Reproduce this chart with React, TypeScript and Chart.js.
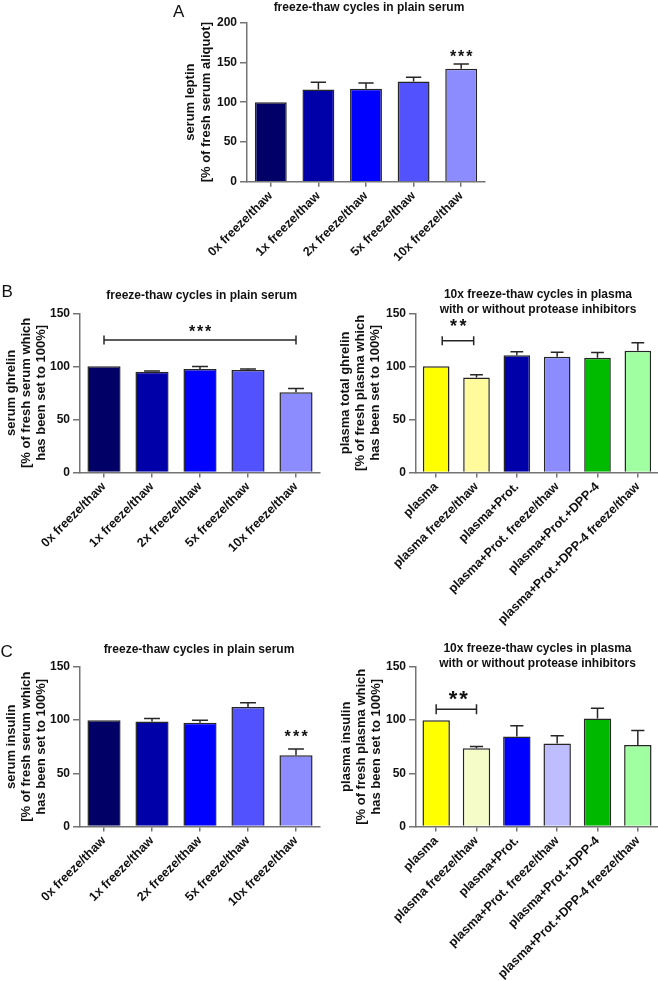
import React, { useEffect, useRef } from 'react';
import { Chart, registerables } from 'chart.js';

Chart.register(...registerables);

const FONT = '"Liberation Sans", Arial, Helvetica, sans-serif';
const AXIS = '#747474';
const INK = '#111111';
const EDGE = '#262626';

// ---------- data ----------
const serumCategories = ['0x freeze/thaw', '1x freeze/thaw', '2x freeze/thaw', '5x freeze/thaw', '10x freeze/thaw'];
const plasmaCategories = [
  'plasma',
  'plasma freeze/thaw',
  'plasma+Prot.',
  'plasma+Prot. freeze/thaw',
  'plasma+Prot.+DPP-4',
  'plasma+Prot.+DPP-4 freeze/thaw',
];

const leptinSerumMean = [100, 116, 117, 126, 142];
const leptinSerumSem = [0, 9, 7, 5.5, 6];

const ghrelinSerumMean = [100, 95, 97.6, 96.6, 75.6];
const ghrelinSerumSem = [0, 0.6, 2.2, 1, 3.5];

const ghrelinPlasmaMean = [100, 89.6, 110.4, 109, 108.1, 114.7];
const ghrelinPlasmaSem = [0, 2.4, 3.4, 4.2, 4.9, 7.6];

const insulinSerumMean = [100, 98.8, 97.5, 112.3, 67];
const insulinSerumSem = [0, 2.8, 2.5, 4.1, 6];

const insulinPlasmaMean = [100, 73.5, 84.7, 78.1, 101.6, 76.6];
const insulinPlasmaSem = [0, 1.8, 10, 7.2, 9.7, 13.7];

const leptinAxisMax = 200;
const percentAxisMax = 150;
const tickStep = 50;

const serumColors = ['#000066', '#0000A8', '#0000FF', '#5252FF', '#8C8CFF'];
const ghrelinPlasmaColors = ['#FFFF00', '#FFFA9C', '#0000A8', '#8C8CFF', '#00BB00', '#A0FFA0'];
const insulinPlasmaColors = ['#FFFF00', '#F5FCC8', '#0000FF', '#BEBEFF', '#00B800', '#A0FFA0'];

// ---------- annotations (significance) ----------
type Mark =
  | { kind: 'stars'; x: number; y: number; text: string; size: number; pitch: number }
  | { kind: 'bracket'; from: number; to: number; y: number; tick: number };

const leptinMarks: Mark[] = [{ kind: 'stars', x: 4, y: 161.5, text: '***', size: 16, pitch: 8.2 }];
const ghrelinSerumMarks: Mark[] = [
  { kind: 'bracket', from: 0, to: 4, y: 124.8, tick: 4.5 },
  { kind: 'stars', x: 2, y: 135.9, text: '***', size: 16, pitch: 8 },
];
const ghrelinPlasmaMarks: Mark[] = [
  { kind: 'bracket', from: 0.15, to: 0.93, y: 124.2, tick: 4.5 },
  { kind: 'stars', x: 0.55, y: 142, text: '**', size: 18, pitch: 9.5 },
];
const insulinSerumMarks: Mark[] = [{ kind: 'stars', x: 4, y: 87.7, text: '***', size: 16, pitch: 8.5 }];
const insulinPlasmaMarks: Mark[] = [
  { kind: 'bracket', from: 0, to: 1, y: 110.2, tick: 5 },
  { kind: 'stars', x: 0.55, y: 125.3, text: '**', size: 22, pitch: 10.5 },
];

type PanelProps = {
  left: number;
  top: number;
  width: number;
  height: number;
  area: { l: number; r: number; t: number; b: number };
  labels: string[];
  means: number[];
  sems: number[];
  colors: string[];
  yMax: number;
  barPct: number;
  yTitle: string[];
  yTitleLH: number;
  yTitlePad: number;
  marks: Mark[];
};

function Panel(p: PanelProps) {
  const ref = useRef<HTMLCanvasElement>(null);
  useEffect(() => {
    const { left, top, width, height, area } = p;
    const yW = area.l - left;
    const xH = top + height - area.b;

    const annot = {
      id: 'annot',
      afterDatasetsDraw(chart: any) {
        const ctx = chart.ctx as CanvasRenderingContext2D;
        const meta = chart.getDatasetMeta(0);
        const xs = chart.scales.x;
        const ys = chart.scales.y;
        ctx.save();
        ctx.strokeStyle = EDGE;
        ctx.lineWidth = 1.5;
        ctx.lineCap = 'butt';
        meta.data.forEach((bar: any, i: number) => {
          const e = p.sems[i];
          if (!e) return;
          const { x, y, width: w } = bar.getProps(['x', 'y', 'width'], true);
          const yt = ys.getPixelForValue(p.means[i] + e);
          const half = w * 0.24;
          ctx.beginPath();
          ctx.moveTo(x, y);
          ctx.lineTo(x, yt);
          ctx.moveTo(x - half, yt);
          ctx.lineTo(x + half, yt);
          ctx.stroke();
        });
        p.marks.forEach((m) => {
          if (m.kind === 'bracket') {
            const x1 = xs.getPixelForValue(m.from);
            const x2 = xs.getPixelForValue(m.to);
            const yy = ys.getPixelForValue(m.y);
            ctx.beginPath();
            ctx.moveTo(x1, yy);
            ctx.lineTo(x2, yy);
            ctx.moveTo(x1, yy - m.tick);
            ctx.lineTo(x1, yy + m.tick);
            ctx.moveTo(x2, yy - m.tick);
            ctx.lineTo(x2, yy + m.tick);
            ctx.stroke();
          } else {
            const cx = xs.getPixelForValue(m.x);
            const cy = ys.getPixelForValue(m.y);
            const adv = 0.389 * m.size;
            const ls = m.pitch - adv;
            ctx.font = `bold ${m.size}px ${FONT}`;
            ctx.fillStyle = INK;
            ctx.textAlign = 'center';
            ctx.textBaseline = 'alphabetic';
            (ctx as any).letterSpacing = `${ls}px`;
            ctx.fillText(m.text, cx + ls / 2, cy + 0.56 * m.size);
            (ctx as any).letterSpacing = '0px';
          }
        });
        ctx.restore();
      },
    };

    const chart = new Chart(ref.current as HTMLCanvasElement, {
      type: 'bar',
      data: {
        labels: p.labels,
        datasets: [
          {
            data: p.means,
            backgroundColor: p.colors,
            borderColor: EDGE,
            borderWidth: 1.5,
            barPercentage: p.barPct,
            categoryPercentage: 1,
          },
        ],
      },
      options: {
        animation: false,
        responsive: false,
        devicePixelRatio: 1,
        events: [],
        layout: {
          padding: { left: 0, top: area.t - top, right: left + width - area.r, bottom: 0 },
        },
        plugins: {
          legend: { display: false },
          tooltip: { enabled: false },
          title: { display: false },
        },
        scales: {
          x: {
            type: 'category',
            offset: true,
            grid: {
              display: true,
              drawOnChartArea: false,
              drawTicks: true,
              tickLength: 5,
              offset: false,
              color: AXIS,
              lineWidth: 1.5,
            },
            border: { display: true, color: AXIS, width: 1.5 },
            ticks: {
              autoSkip: false,
              minRotation: 45,
              maxRotation: 45,
              color: INK,
              padding: 2,
              font: { family: FONT, size: 12.5, weight: 'bold' },
            },
            afterFit: (s: any) => {
              s.height = xH;
            },
          },
          y: {
            min: 0,
            max: p.yMax,
            ticks: {
              stepSize: tickStep,
              color: INK,
              padding: 3,
              font: { family: FONT, size: 12, weight: 'bold' },
            },
            grid: {
              display: true,
              drawOnChartArea: false,
              drawTicks: true,
              tickLength: 7,
              color: AXIS,
              lineWidth: 1.5,
            },
            border: { display: true, color: AXIS, width: 1.5 },
            title: {
              display: true,
              text: p.yTitle,
              color: INK,
              font: { family: FONT, size: 13, weight: 'bold', lineHeight: p.yTitleLH },
              padding: { top: p.yTitlePad, bottom: 0 },
            },
            afterFit: (s: any) => {
              s.width = yW;
            },
          },
        },
      } as any,
      plugins: [annot as any],
    });
    return () => chart.destroy();
  }, []);

  return (
    <canvas
      ref={ref}
      width={p.width}
      height={p.height}
      style={{ position: 'absolute', left: p.left, top: p.top, width: p.width, height: p.height, display: 'block' }}
    />
  );
}

function Label(props: { x: number; y: number; lines: string[]; lh?: number }) {
  const lh = props.lh ?? 15;
  return (
    <div
      style={{
        position: 'absolute',
        left: props.x,
        top: props.y - lh / 2,
        transform: 'translateX(-50%)',
        whiteSpace: 'nowrap',
        textAlign: 'center',
        font: `bold 12px ${FONT}`,
        lineHeight: `${lh}px`,
        color: INK,
        zIndex: 2,
      }}
    >
      {props.lines.map((l, i) => (
        <div key={i}>{l}</div>
      ))}
    </div>
  );
}

function Letter(props: { x: number; y: number; text: string }) {
  return (
    <div
      style={{
        position: 'absolute',
        left: props.x,
        top: props.y,
        font: `17px ${FONT}`,
        lineHeight: '17px',
        color: INK,
        zIndex: 2,
      }}
    >
      {props.text}
    </div>
  );
}

export default function App() {
  return (
    <div
      style={{
        position: 'absolute',
        left: 0,
        top: 0,
        width: 658,
        height: 981,
        background: '#ffffff',
        overflow: 'hidden',
        fontFamily: FONT,
      }}
    >
      <Panel
        left={160}
        top={0}
        width={330}
        height={290}
        area={{ l: 247, r: 485, t: 22.7, b: 181.7 }}
        labels={serumCategories}
        means={leptinSerumMean}
        sems={leptinSerumSem}
        colors={serumColors}
        yMax={leptinAxisMax}
        barPct={0.67}
        yTitle={['serum leptin', '[% of fresh serum aliquot]']}
        yTitleLH={1.285}
        yTitlePad={21.6}
        marks={leptinMarks}
      />
      <Panel
        left={0}
        top={280}
        width={330}
        height={340}
        area={{ l: 80, r: 320, t: 313.3, b: 472.5 }}
        labels={serumCategories}
        means={ghrelinSerumMean}
        sems={ghrelinSerumSem}
        colors={serumColors}
        yMax={percentAxisMax}
        barPct={0.69}
        yTitle={['serum ghrelin', '[% of fresh serum which', 'has been set to 100%]']}
        yTitleLH={1.154}
        yTitlePad={4.2}
        marks={ghrelinSerumMarks}
      />
      <Panel
        left={330}
        top={280}
        width={328}
        height={360}
        area={{ l: 416, r: 658, t: 313.3, b: 472.5 }}
        labels={plasmaCategories}
        means={ghrelinPlasmaMean}
        sems={ghrelinPlasmaSem}
        colors={ghrelinPlasmaColors}
        yMax={percentAxisMax}
        barPct={0.66}
        yTitle={['plasma total ghrelin', '[% of fresh plasma which', 'has been set to 100%]']}
        yTitleLH={1.154}
        yTitlePad={7.5}
        marks={ghrelinPlasmaMarks}
      />
      <Panel
        left={0}
        top={640}
        width={330}
        height={341}
        area={{ l: 80, r: 320, t: 667, b: 826.5 }}
        labels={serumCategories}
        means={insulinSerumMean}
        sems={insulinSerumSem}
        colors={serumColors}
        yMax={percentAxisMax}
        barPct={0.69}
        yTitle={['serum insulin', '[% of fresh serum which', 'has been set to 100%]']}
        yTitleLH={1.154}
        yTitlePad={4.2}
        marks={insulinSerumMarks}
      />
      <Panel
        left={330}
        top={640}
        width={328}
        height={341}
        area={{ l: 416, r: 658, t: 667, b: 826.5 }}
        labels={plasmaCategories}
        means={insulinPlasmaMean}
        sems={insulinPlasmaSem}
        colors={insulinPlasmaColors}
        yMax={percentAxisMax}
        barPct={0.68}
        yTitle={['plasma insulin', '[% of fresh plasma which', 'has been set to 100%]']}
        yTitleLH={1.154}
        yTitlePad={9.2}
        marks={insulinPlasmaMarks}
      />

      <Letter x={173} y={2.8} text="A" />
      <Letter x={1.5} y={282.8} text="B" />
      <Letter x={0.5} y={642.8} text="C" />

      <Label x={369} y={7} lines={['freeze-thaw cycles in plain serum']} />
      <Label x={201.7} y={295} lines={['freeze-thaw cycles in plain serum']} />
      <Label x={538} y={294.2} lines={['10x freeze-thaw cycles in plasma', 'with or without protease inhibitors']} />
      <Label x={199} y={649.3} lines={['freeze-thaw cycles in plain serum']} />
      <Label x={537.5} y={648.5} lines={['10x freeze-thaw cycles in plasma', 'with or without protease inhibitors']} />
    </div>
  );
}
